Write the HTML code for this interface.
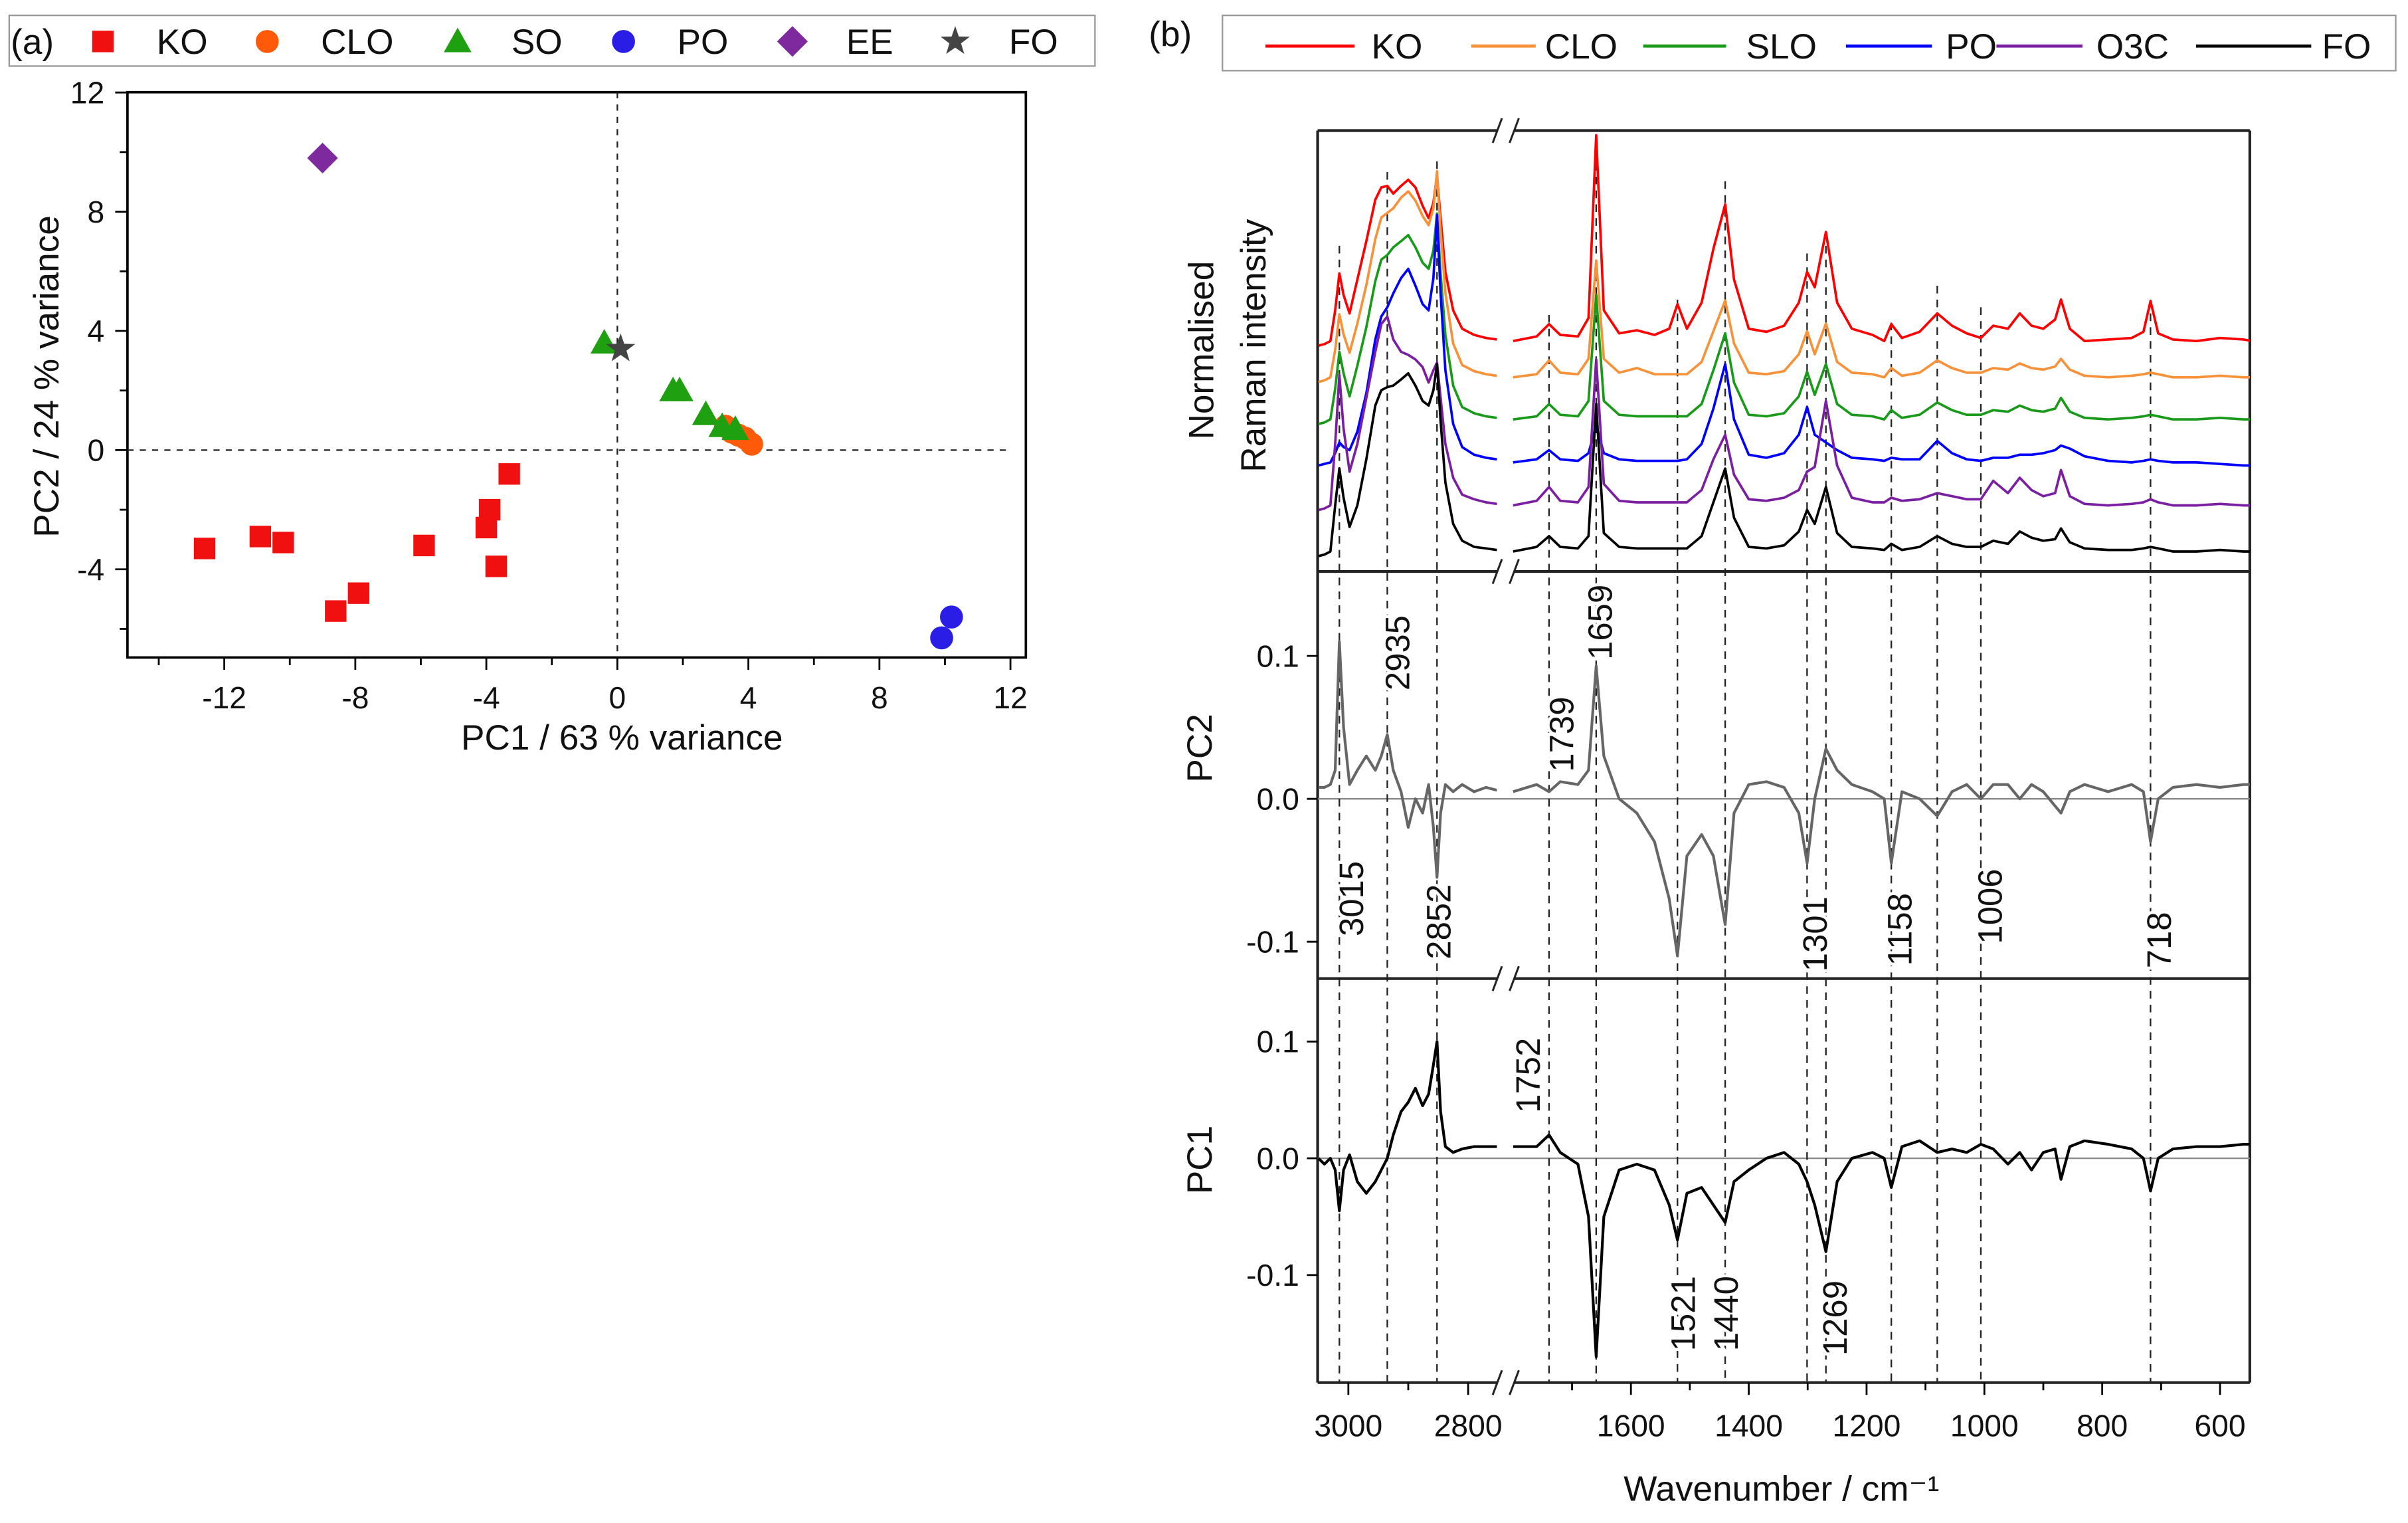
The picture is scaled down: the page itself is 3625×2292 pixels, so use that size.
<!DOCTYPE html>
<html><head><meta charset="utf-8"><style>
html,body{margin:0;padding:0;background:#fff}
svg{display:block}
text{font-family:"Liberation Sans",Arial,sans-serif;fill:#111}
</style></head><body>
<svg id="fig" width="3625" height="2292" viewBox="0 0 1568 991.4" xmlns="http://www.w3.org/2000/svg">
<rect width="1568" height="991.4" fill="#fff"/>
<g id="pa"></g>
<g id="pb"></g>
</svg>
<script>
// ---------- Panel (a) data ----------
const koX=[-12.6,-10.9,-10.2,-8.6,-7.9,-5.9,-4.0,-3.9,-3.7,-3.3];
const koY=[-3.3,-2.9,-3.1,-5.4,-4.8,-3.2,-2.6,-2.0,-3.9,-0.8];
const cloX=[3.3,3.5,3.7,3.9,4.1];
const cloY=[0.8,0.6,0.5,0.4,0.2];
const soX=[-0.4,1.7,1.9,2.7,3.2,3.6];
const soY=[3.6,2.0,2.0,1.2,0.8,0.7];
const poX=[9.9,10.2];
const poY=[-6.3,-5.6];
const eeX=[-9.0];
const eeY=[9.8];
const foX=[0.1];
const foY=[3.4];
const aXTicks=[-12,-8,-4,0,4,8,12];
const aYTicks=[-4,0,4,8,12];

// ---------- Panel (b) data ----------
const wnL=[3050,3040,3030,3022,3015,3008,2998,2985,2970,2955,2945,2935,2925,2912,2900,2888,2876,2866,2858,2852,2846,2838,2825,2810,2790,2770,2752];
const wnR=[1800,1760,1739,1720,1690,1672,1659,1646,1620,1590,1560,1535,1521,1505,1480,1460,1440,1425,1400,1370,1340,1315,1301,1288,1269,1250,1225,1190,1170,1158,1140,1110,1080,1055,1030,1006,985,960,940,920,900,880,870,855,830,790,750,730,718,705,680,640,600,560,545];
const seriesNames=["KO","CLO","SLO","PO","O3C","FO"];
const seriesOffsets=[137,113.4,86,58,30,0];
const koL=[-3,-2,0,20,44,30,18,40,65,92,100,101,96,101,105,100,88,80,90,108,80,45,20,8,4,2,1];
const cloL=[-3,-2,0,18,41,28,16,35,60,90,104,107,110,117,121,115,105,99,110,134,95,55,22,8,4,2,1];
const sloL=[-3,-2,0,20,44,30,15,35,60,90,104,107,112,116,120,112,102,98,110,134,95,55,22,8,4,2,1];
const poL=[-2,-1,0,6,13,10,8,20,45,80,95,101,110,120,126,115,103,99,120,161,110,60,25,10,5,3,2];
const o3cL=[-3,-2,0,40,85,50,22,40,70,100,118,123,108,100,98,95,90,80,88,93,70,40,18,7,4,2,1];
const foL=[-3,-2,0,30,54,35,16,30,60,95,105,107,108,112,116,108,98,95,105,122,85,45,18,7,3,2,1];
const koR=[0,3,11,4,3,15,134,20,5,7,4,8,24,8,25,60,89,40,8,6,10,25,45,35,71,25,8,4,0,11,2,6,18,10,5,2,10,8,18,10,8,14,27,8,0,1,2,6,26,5,1,0,2,1,0];
const cloR=[0,2,11,3,2,12,76,12,3,6,2,2,2,2,10,30,50,22,3,2,4,15,30,15,35,10,3,2,0,6,1,3,11,6,3,3,6,5,9,6,5,7,12,5,1,0,1,2,3,2,0,0,1,0,0];
const sloR=[0,2,10,3,2,12,81,12,3,2,2,2,2,2,10,32,56,24,3,2,4,15,31,16,36,10,3,2,0,6,1,3,11,6,3,3,6,5,9,6,5,7,14,5,1,0,1,2,3,2,0,0,1,0,0];
const poR=[0,2,8,2,1,6,24,6,2,1,1,1,1,2,12,35,64,28,5,3,6,18,36,18,13,8,3,2,1,3,2,2,14,6,2,1,3,3,5,5,6,8,11,9,4,1,0,1,2,1,0,0,-1,-2,-2];
const o3cR=[0,3,12,3,2,12,95,14,3,2,2,2,2,2,10,30,46,20,4,3,5,10,22,25,68,26,5,2,2,5,3,4,8,6,4,4,16,8,18,10,6,8,23,6,1,0,1,2,4,2,0,0,1,0,0];
const foR=[0,3,10,3,2,10,96,12,3,2,2,2,2,2,10,32,54,22,3,2,4,13,27,18,42,12,3,2,1,5,1,3,10,5,3,3,7,5,13,9,7,8,15,6,2,1,1,2,3,2,0,0,1,0,0];
const pc2L=[0.008,0.008,0.01,0.02,0.11,0.05,0.01,0.02,0.03,0.02,0.03,0.045,0.02,0.005,-0.02,0.0,-0.01,0.01,-0.02,-0.055,-0.01,0.01,0.005,0.01,0.005,0.008,0.006];
const pc2R=[0.005,0.01,0.005,0.012,0.01,0.02,0.093,0.03,0.0,-0.01,-0.03,-0.07,-0.11,-0.04,-0.025,-0.04,-0.088,-0.01,0.01,0.012,0.008,-0.01,-0.045,0.0,0.035,0.02,0.01,0.005,0.0,-0.045,0.005,0.0,-0.012,0.005,0.01,0.0,0.01,0.01,0.0,0.01,0.005,-0.005,-0.01,0.005,0.01,0.005,0.01,0.005,-0.03,0.0,0.008,0.01,0.008,0.01,0.01];
const pc1L=[0.0,-0.005,0.0,-0.01,-0.045,-0.01,0.003,-0.02,-0.03,-0.02,-0.01,0.0,0.02,0.04,0.048,0.06,0.045,0.055,0.08,0.1,0.04,0.01,0.005,0.008,0.01,0.01,0.01];
const pc1R=[0.01,0.01,0.02,0.005,-0.005,-0.05,-0.17,-0.05,-0.01,-0.005,-0.01,-0.04,-0.07,-0.03,-0.025,-0.04,-0.055,-0.02,-0.01,0.0,0.005,-0.005,-0.02,-0.04,-0.08,-0.02,0.0,0.005,0.0,-0.025,0.01,0.015,0.005,0.008,0.005,0.012,0.008,-0.005,0.005,-0.01,0.005,0.008,-0.018,0.01,0.015,0.012,0.008,0.0,-0.028,0.0,0.008,0.01,0.01,0.012,0.012];
const peakLines=[3015,2935,2852,1739,1659,1521,1440,1301,1269,1158,1080,1006,718];
const pc2Labels=["3015","2935","2852","1739","1659","1301","1158","1006","718"];
const pc1Labels=["1752","1521","1440","1269"];
const xTicksL=[3000,2800];
const xTicksR=[1600,1400,1200,1000,800,600];
const pcTicks=[0.1,0.0,-0.1];

const NS="http://www.w3.org/2000/svg";
function mk(parent,tag,attrs,txt){const e=document.createElementNS(NS,tag);for(const k in attrs)e.setAttribute(k,attrs[k]);if(txt!==undefined)e.textContent=txt;parent.appendChild(e);return e;}

// ---------- Panel (a) ----------
const pa=document.getElementById('pa');
const ax=v=>402+v*21.33, ay=v=>293-v*19.4;
let lg=mk(pa,'rect',{x:6,y:10,width:707,height:33,fill:'#fff',stroke:'#999','stroke-width':1});


let t=mk(pa,'text',{x:7,y:35,'font-size':23},'(a)');



function marker(g,shape,x,y,color){
  let e;
  if(shape==='sq') e=mk(g,'rect',{x:x-7,y:y-7,width:14,height:14,fill:color});
  else if(shape==='ci') e=mk(g,'circle',{cx:x,cy:y,r:7.5,fill:color});
  else if(shape==='tr') e=mk(g,'polygon',{points:`${x},${y-9} ${x+9},${y+7} ${x-9},${y+7}`,fill:color});
  else if(shape==='di') e=mk(g,'polygon',{points:`${x},${y-10} ${x+10},${y} ${x},${y+10} ${x-10},${y}`,fill:color});
  else { let p=[];for(let i=0;i<10;i++){const r=i%2?4:10,a=-Math.PI/2+i*Math.PI/5;p.push((x+r*Math.cos(a)).toFixed(2)+','+(y+r*Math.sin(a)).toFixed(2));} e=mk(g,'polygon',{points:p.join(' '),fill:color}); }
  return e;
}
const groups=[["KO",koX,koY,'sq','#f01010'],["CLO",cloX,cloY,'ci','#ff5a0a'],["SO",soX,soY,'tr','#1fa010'],["PO",poX,poY,'ci','#2a1ee6'],["EE",eeX,eeY,'di','#7e2a9e'],["FO",foX,foY,'st','#444444']];
const legendX=[67,174,298,406,516,622];
groups.forEach((g,gi)=>{
  const le=mk(pa,'g',{});
  
  
  marker(le,g[3],legendX[gi],27,g[4]);
  mk(le,'text',{x:legendX[gi]+35,y:35,'font-size':23},g[0]);
});
let ab=mk(pa,'rect',{x:83,y:60,width:585,height:368,fill:'none',stroke:'#000','stroke-width':1.6});


mk(pa,'line',{x1:ax(0),y1:60,x2:ax(0),y2:428,stroke:'#222','stroke-width':1,'stroke-dasharray':'4,4'});
mk(pa,'line',{x1:83,y1:ay(0),x2:655,y2:ay(0),stroke:'#222','stroke-width':1,'stroke-dasharray':'4,4'});
for(let v=-14;v<=12;v+=2){const x=ax(v);mk(pa,'line',{x1:x,y1:428,x2:x,y2:v%4===0?436:433,stroke:'#000','stroke-width':1.2});}
aXTicks.forEach(v=>{const e=mk(pa,'text',{x:ax(v),y:461,'font-size':20,'text-anchor':'middle'},String(v));});
for(let v=-6;v<=12;v+=2){const y=ay(v);mk(pa,'line',{x1:83,y1:y,x2:v%4===0?75:78,y2:y,stroke:'#000','stroke-width':1.2});}
aYTicks.forEach(v=>{const e=mk(pa,'text',{x:68,y:ay(v)+7,'font-size':20,'text-anchor':'end'},String(v));});
t=mk(pa,'text',{x:405,y:488,'font-size':23,'text-anchor':'middle'},'PC1 / 63 % variance');


t=mk(pa,'text',{x:0,y:0,'font-size':23,'text-anchor':'middle',transform:'translate(38,245) rotate(-90)'},'PC2 / 24 % variance');


groups.forEach(g=>{
  const sg=mk(pa,'g',{});
  
  
  g[1].forEach((xv,i)=>{const m=marker(sg,g[3],ax(xv),ay(g[2][i]),g[4]);
    
    });
});

// ---------- Panel (b) ----------
const pb=document.getElementById('pb');
const xL=w=>878+(3000-w)*0.39, xR=w=>1062+(1600-w)*0.3836;
const X0=858,X1=1465,BL=975,BR=986;
const yTop=v=>359-v, yP2=v=>520-v*930, yP1=v=>754-v*760;
const clip=mk(pb,'clipPath',{id:'cl'});
mk(clip,'rect',{x:X0,y:60,width:X1-X0,height:860});
lg=mk(pb,'rect',{x:796,y:10,width:764,height:36,fill:'#fff',stroke:'#999','stroke-width':1});


t=mk(pb,'text',{x:748,y:30,'font-size':23},'(b)');


const sCols=['#ff0000','#f7923a','#1a9a1a','#0000ff','#7b1fa2','#000000'];
const legL=[[824,882,893],[958,1000,1006],[1070,1124,1137],[1202,1258,1267],[1300,1356,1365],[1430,1505,1512]];
seriesNames.forEach((n,i)=>{
  const le=mk(pb,'g',{});
  
  
  mk(le,'line',{x1:legL[i][0],y1:30,x2:legL[i][1],y2:30,stroke:sCols[i],'stroke-width':2});
  mk(le,'text',{x:legL[i][2],y:38,'font-size':23},n);
});
function hline(y){mk(pb,'line',{x1:X0,y1:y,x2:BL,y2:y,stroke:'#222','stroke-width':1.8});mk(pb,'line',{x1:BR,y1:y,x2:X1,y2:y,stroke:'#222','stroke-width':1.8});
  mk(pb,'line',{x1:BL-3,y1:y+8,x2:BL+3,y2:y-8,stroke:'#222','stroke-width':1.3});mk(pb,'line',{x1:BR-3,y1:y+8,x2:BR+3,y2:y-8,stroke:'#222','stroke-width':1.3});}
[85,372,637,900].forEach(hline);
mk(pb,'line',{x1:X0,y1:85,x2:X0,y2:900,stroke:'#222','stroke-width':1.8});
mk(pb,'line',{x1:X1,y1:85,x2:X1,y2:900,stroke:'#222','stroke-width':1.8});
mk(pb,'line',{x1:X0,y1:yP2(0),x2:X1,y2:yP2(0),stroke:'#888','stroke-width':1});
mk(pb,'line',{x1:X0,y1:yP1(0),x2:X1,y2:yP1(0),stroke:'#888','stroke-width':1});
const lineTop=[160,112,105,205,88,195,118,165,160,210,186,200,195];
peakLines.forEach((w,i)=>{const x=w>2000?xL(w):xR(w);const e=mk(pb,'line',{x1:x,y1:lineTop[i],x2:x,y2:900,stroke:'#222','stroke-width':1,'stroke-dasharray':'5,4'});
  });
function path(vals,wns,xf,yf){return vals.map((v,i)=>(i?'L':'M')+xf(wns[i]).toFixed(2)+','+yf(v).toFixed(2)).join(' ');}
const specL=[koL,cloL,sloL,poL,o3cL,foL], specR=[koR,cloR,sloR,poR,o3cR,foR];
seriesNames.forEach((n,i)=>{
  const off=seriesOffsets[i];
  const yf=v=>yTop(v+off);
  const p=mk(pb,'path',{d:path(specL[i],wnL,xL,yf)+' '+path(specR[i],wnR,xR,yf),fill:'none',stroke:sCols[i],'stroke-width':1.6,'stroke-linejoin':'round','clip-path':'url(#cl)'});
  
  
});
let p2=mk(pb,'path',{d:path(pc2L,wnL,xL,yP2)+' '+path(pc2R,wnR,xR,yP2),fill:'none',stroke:'#666','stroke-width':1.8,'stroke-linejoin':'round','clip-path':'url(#cl)'});


let p1=mk(pb,'path',{d:path(pc1L,wnL,xL,yP1)+' '+path(pc1R,wnR,xR,yP1),fill:'none',stroke:'#000','stroke-width':1.8,'stroke-linejoin':'round','clip-path':'url(#cl)'});


pcTicks.forEach(v=>{
  [[yP2,'pc2'],[yP1,'pc1']].forEach(([f,n])=>{const y=f(v);mk(pb,'line',{x1:X0,y1:y,x2:X0-7,y2:y,stroke:'#000','stroke-width':1.2});
  const e=mk(pb,'text',{x:846,y:y+7,'font-size':20,'text-anchor':'end'},v.toFixed(1));});
});
xTicksL.forEach(w=>{const x=xL(w);mk(pb,'line',{x1:x,y1:900,x2:x,y2:908,stroke:'#000','stroke-width':1.2});
  const e=mk(pb,'text',{x:x,y:935,'font-size':20,'text-anchor':'middle'},String(w));});
[2900].forEach(w=>mk(pb,'line',{x1:xL(w),y1:900,x2:xL(w),y2:905,stroke:'#000','stroke-width':1.2}));
xTicksR.forEach(w=>{const x=xR(w);mk(pb,'line',{x1:x,y1:900,x2:x,y2:908,stroke:'#000','stroke-width':1.2});
  const e=mk(pb,'text',{x:x,y:935,'font-size':20,'text-anchor':'middle'},String(w));});
[1700,1500,1300,1100,900,700].forEach(w=>mk(pb,'line',{x1:xR(w),y1:900,x2:xR(w),y2:905,stroke:'#000','stroke-width':1.2}));
const lab2Pos=[[880,585],[910,425],[937,600],[1017,478],[1042,405],[1182,608],[1237,605],[1296,590],[1406,612]];
pc2Labels.forEach((s,i)=>{const [x,y]=lab2Pos[i];const e=mk(pb,'text',{x:0,y:0,'font-size':22,'text-anchor':'middle','dominant-baseline':'central',transform:`translate(${x},${y}) rotate(-90)`,stroke:'#fff','stroke-width':4,'paint-order':'stroke'},s);
  });
const lab1Pos=[[995,700],[1096,855],[1124,855],[1195,858]];
pc1Labels.forEach((s,i)=>{const [x,y]=lab1Pos[i];const e=mk(pb,'text',{x:0,y:0,'font-size':22,'text-anchor':'middle','dominant-baseline':'central',transform:`translate(${x},${y}) rotate(-90)`,stroke:'#fff','stroke-width':4,'paint-order':'stroke'},s);
  });
t=mk(pb,'text',{x:0,y:0,'font-size':23,'text-anchor':'middle',transform:'translate(790,228) rotate(-90)'},'Normalised');


t=mk(pb,'text',{x:0,y:0,'font-size':23,'text-anchor':'middle',transform:'translate(824,225) rotate(-90)'},'Raman intensity');


t=mk(pb,'text',{x:0,y:0,'font-size':23,'text-anchor':'middle',transform:'translate(789,487) rotate(-90)'},'PC2');


t=mk(pb,'text',{x:0,y:0,'font-size':23,'text-anchor':'middle',transform:'translate(789,755) rotate(-90)'},'PC1');


t=mk(pb,'text',{x:1160,y:977,'font-size':23,'text-anchor':'middle'},'Wavenumber / cm\u207B\u00B9');


</script>
</body></html>
